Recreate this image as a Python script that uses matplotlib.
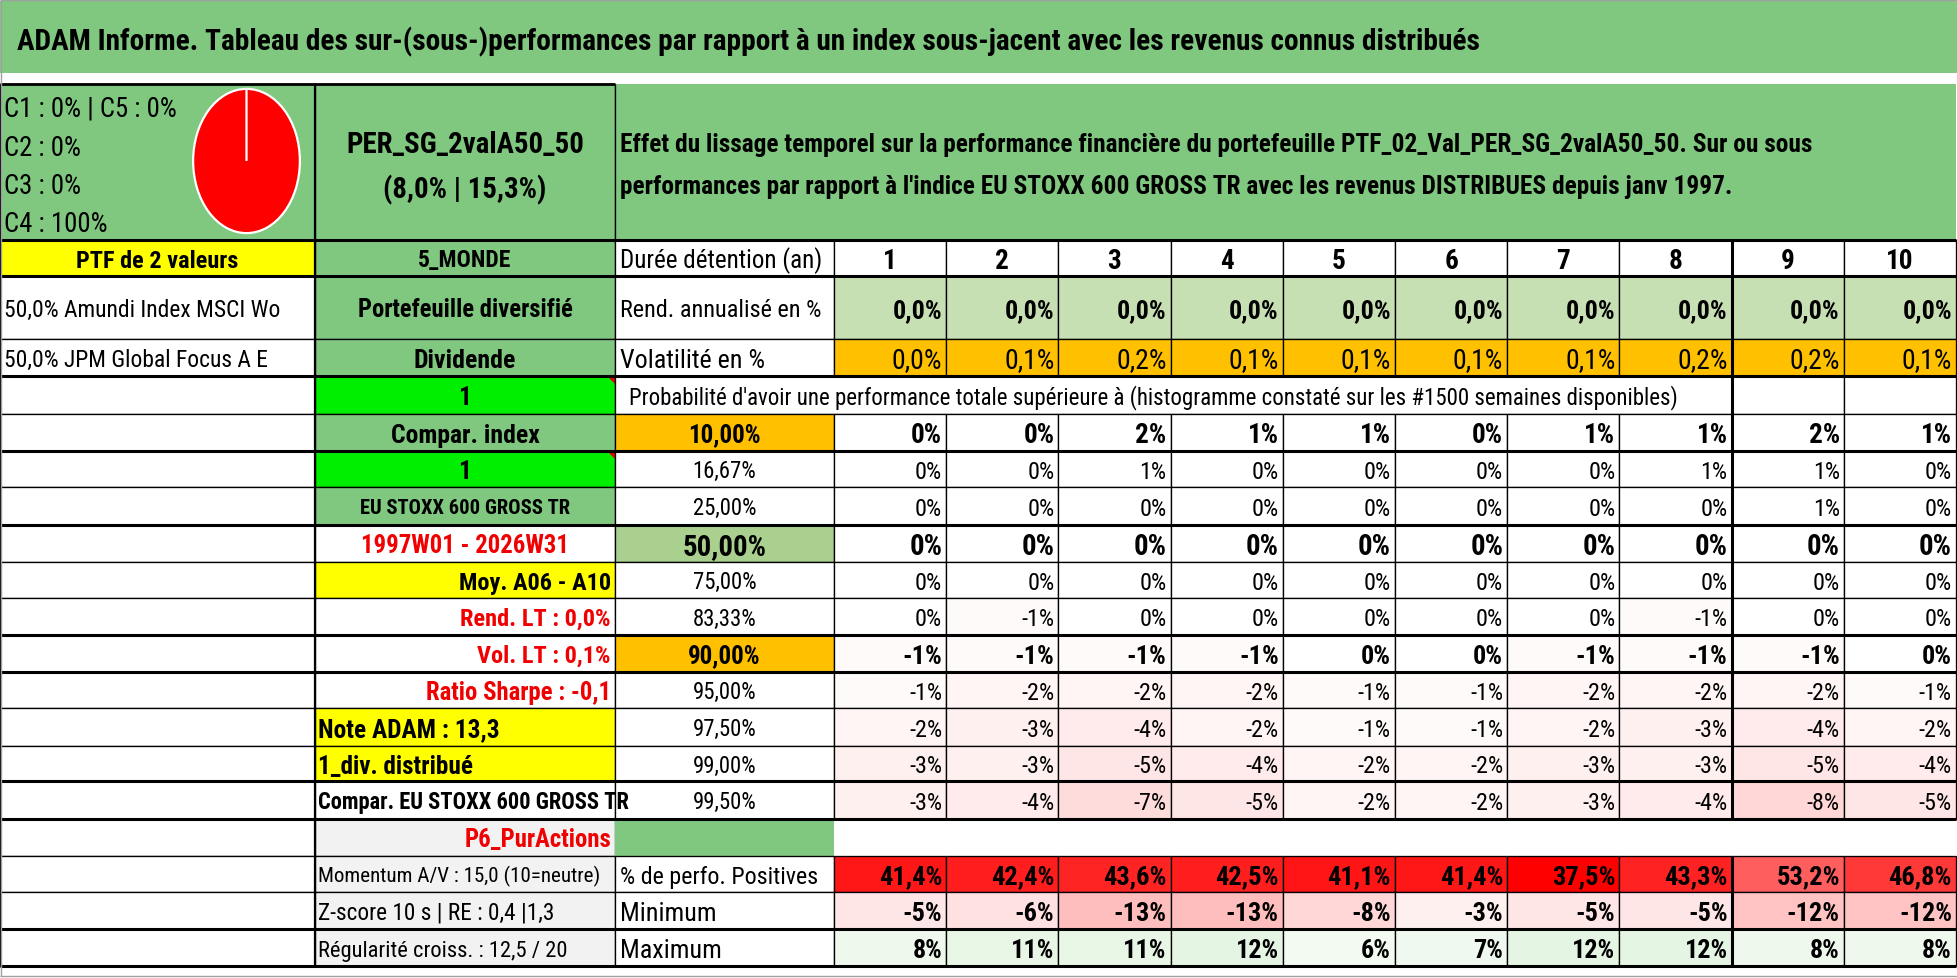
import matplotlib
matplotlib.use('Agg')
import matplotlib.pyplot as plt
from matplotlib.patches import Rectangle, Polygon
from matplotlib.colors import LinearSegmentedColormap, Normalize
from matplotlib.font_manager import FontProperties, fontManager

# values
pie_labels = ['C1', 'C2', 'C3', 'C4', 'C5']
pie_values = [0, 0, 0, 100, 0]

horizons = [1, 2, 3, 4, 5, 6, 7, 8, 9, 10]
rend_annualise = [0.0, 0.0, 0.0, 0.0, 0.0, 0.0, 0.0, 0.0, 0.0, 0.0]
volatilite = [0.0, 0.1, 0.2, 0.1, 0.1, 0.1, 0.1, 0.2, 0.2, 0.1]

quantiles = ['10,00%', '16,67%', '25,00%', '50,00%', '75,00%', '83,33%',
             '90,00%', '95,00%', '97,50%', '99,00%', '99,50%']
q10 = [0, 0, 2, 1, 1, 0, 1, 1, 2, 1]
q16 = [0, 0, 1, 0, 0, 0, 0, 1, 1, 0]
q25 = [0, 0, 0, 0, 0, 0, 0, 0, 1, 0]
q50 = [0, 0, 0, 0, 0, 0, 0, 0, 0, 0]
q75 = [0, 0, 0, 0, 0, 0, 0, 0, 0, 0]
q83 = [0, -1, 0, 0, 0, 0, 0, -1, 0, 0]
q90 = [-1, -1, -1, -1, 0, 0, -1, -1, -1, 0]
q95 = [-1, -2, -2, -2, -1, -1, -2, -2, -2, -1]
q975 = [-2, -3, -4, -2, -1, -1, -2, -3, -4, -2]
q99 = [-3, -3, -5, -4, -2, -2, -3, -3, -5, -4]
q995 = [-3, -4, -7, -5, -2, -2, -3, -4, -8, -5]
quantile_rows = [q10, q16, q25, q50, q75, q83, q90, q95, q975, q99, q995]

perf_positives = [41.4, 42.4, 43.6, 42.5, 41.1, 41.4, 37.5, 43.3, 53.2, 46.8]
minimum = [-5, -6, -13, -13, -8, -3, -5, -5, -12, -12]
maximum = [8, 11, 11, 12, 6, 7, 12, 12, 8, 8]

title = ("ADAM Informe. Tableau des sur-(sous-)performances par rapport à un index "
         "sous-jacent avec les revenus connus distribués")
effet_1 = ("Effet du lissage temporel sur la performance financière du portefeuille "
           "PTF_02_Val_PER_SG_2valA50_50. Sur ou sous")
effet_2 = ("performances par rapport à l'indice EU STOXX 600 GROSS TR avec les revenus "
           "DISTRIBUES depuis janv 1997.")
proba = ("Probabilité d'avoir une performance totale supérieure à (histogramme constaté "
         "sur les #1500 semaines disponibles)")

# sheet layout, in pixels
W, H = 1958, 979
XA, XB, XC, XN = 0, 315, 615, 834
CW = 112.2
ROW_Y = [241, 277, 340, 377, 415, 452, 488, 526, 563, 599, 636, 673, 709,
         747, 782, 820, 857, 893, 930, 967]

GREEN = '#80C880'
LIME = '#00EE00'
YELLOW = '#FFFF00'
ORANGE = '#FFC000'
PALE = '#C6E0B4'
MID = '#A9D08E'
GREY = '#F2F2F2'
RED = '#F00000'

installed = {f.name for f in fontManager.ttflist}
FONT = next((f for f in ['Liberation Sans Narrow', 'Roboto Condensed',
                         'DejaVu Sans Condensed', 'Roboto', 'Liberation Sans']
             if f in installed), 'DejaVu Sans')

fig = plt.figure(figsize=(W / 100, H / 100), dpi=100)
ax = fig.add_axes([0, 0, 1, 1])
ax.set_xlim(0, W)
ax.set_ylim(H, 0)
ax.axis('off')
rend = fig.canvas.get_renderer()

LW = 0.95
G = 1.12    # the sheet text is taller than it is wide, let short strings grow a bit
GN = 1.2    # numbers sit in wide cells, they can grow more


def box(x0, x1, y0, y1, fc='white', ec='black', lw=LW):
    ax.add_patch(Rectangle((x0, y0), x1 - x0, y1 - y0, facecolor=fc,
                           edgecolor=ec, linewidth=lw))


def fit(s, width, weight='normal', grow=1.0):
    fp = FontProperties(family=FONT, weight=weight, size=100)
    w = rend.get_text_width_height_descent(s, fp, ismath=False)[0]
    return 100 * width / w * grow


def put(x, y, s, size, ha='left', weight='normal', color='black'):
    return ax.text(x, y + 0.497 * size, s, fontsize=size, ha=ha, va='baseline',
                   fontweight=weight, color=color, family=FONT)


def mid(i):
    return (ROW_Y[i] + ROW_Y[i + 1]) / 2


def col(j):
    return XN + j * CW, XN + (j + 1) * CW


def p1(v):
    return f'{v:.1f}%'.replace('.', ',')


def p0(v):
    return f'{v:d}%'


# title band and header block
ax.add_patch(Rectangle((0, 2), W, 72, facecolor=GREEN, edgecolor='none'))
put(17, 40, title, fit(title, 1467, 'bold'), weight='bold')

box(XA, XB, 85, 241, GREEN)
box(XB, XC, 85, 241, GREEN)
ax.add_patch(Rectangle((XC, 85), 1956 - XC, 156, facecolor=GREEN, edgecolor='none'))
ax.vlines(XC, 85, 241, color='black', lw=LW)
ax.hlines(85, 0, XC, color='black', lw=2)

s = fit('C1 : 0% | C5 : 0%', 154, grow=G)
for y, t in zip([107, 146, 184, 222], ['C1 : 0% | C5 : 0%', 'C2 : 0%', 'C3 : 0%', 'C4 : 100%']):
    put(4, y, t, s)

s = fit('PER_SG_2valA50_50', 212, 'bold', G)
put((XB + XC) / 2, 143, 'PER_SG_2valA50_50', s, 'center', 'bold')
put((XB + XC) / 2, 188, '(8,0% | 15,3%)', s, 'center', 'bold')

s = fit(effet_1, 1195, 'bold')
put(620, 143, effet_1, s, weight='bold')
put(620, 185, effet_2, s, weight='bold')

pax = fig.add_axes([191 / W, 1 - 237 / H, 111 / W, 150 / H])
pax.pie(pie_values, colors=['#FF0000'] * len(pie_values), startangle=90,
        counterclock=False, wedgeprops=dict(edgecolor='white', linewidth=1.6))
pax.set_aspect('auto')
pax.set_xlim(-1.04, 1.04)
pax.set_ylim(-1.04, 1.04)

# column A
box(XA, XB, ROW_Y[0], ROW_Y[1], YELLOW)
put((XA + XB) / 2, mid(0), 'PTF de 2 valeurs', fit('PTF de 2 valeurs', 145, 'bold', G),
    'center', 'bold')
s = fit('50,0% Amundi Index MSCI Wo', 246, grow=G)
for i, t in [(1, '50,0% Amundi Index MSCI Wo'), (2, '50,0% JPM Global Focus A E')]:
    box(XA, XB, ROW_Y[i], ROW_Y[i + 1])
    put(4, mid(i), t, s)
for i in range(3, 19):
    box(XA, XB, ROW_Y[i], ROW_Y[i + 1])

# column B
s_ci = fit('Compar. index', 133, 'bold', G)
col_b = [
    (GREEN, '5_MONDE', 'center', 'bold', 'black', fit('5_MONDE', 83, 'bold', G)),
    (GREEN, 'Portefeuille diversifié', 'center', 'bold', 'black',
     fit('Portefeuille diversifié', 192, 'bold', G)),
    (GREEN, 'Dividende', 'center', 'bold', 'black', fit('Dividende', 91, 'bold', G)),
    (LIME, '1', 'center', 'bold', 'black', s_ci),
    (GREEN, 'Compar. index', 'center', 'bold', 'black', s_ci),
    (LIME, '1', 'center', 'bold', 'black', s_ci),
    (GREEN, 'EU STOXX 600 GROSS TR', 'center', 'bold', 'black',
     fit('EU STOXX 600 GROSS TR', 187, 'bold', G)),
    ('white', '1997W01 - 2026W31', 'center', 'bold', RED,
     fit('1997W01 - 2026W31', 186, 'bold', G)),
    (YELLOW, 'Moy. A06 - A10', 'right', 'bold', 'black', fit('Moy. A06 - A10', 136, 'bold', G)),
    ('white', 'Rend. LT : 0,0%', 'right', 'bold', RED, fit('Rend. LT : 0,0%', 135, 'bold', G)),
    ('white', 'Vol. LT : 0,1%', 'right', 'bold', RED, fit('Vol. LT : 0,1%', 119, 'bold', G)),
    ('white', 'Ratio Sharpe : -0,1', 'right', 'bold', RED,
     fit('Ratio Sharpe : -0,1', 165, 'bold', G)),
    (YELLOW, 'Note ADAM : 13,3', 'left', 'bold', 'black', fit('Note ADAM : 13,3', 162, 'bold', G)),
    (YELLOW, '1_div. distribué', 'left', 'bold', 'black',
     fit('1_div. distribué', 139, 'bold', G)),
    ('white', 'Compar. EU STOXX 600 GROSS TR', 'left', 'bold', 'black',
     fit('Compar. EU STOXX 600 GROSS TR', 312, 'bold')),
    (GREY, 'P6_PurActions', 'right', 'bold', RED, fit('P6_PurActions', 131, 'bold', G)),
    (GREY, 'Momentum A/V : 15,0 (10=neutre)', 'left', 'normal', 'black',
     fit('Momentum A/V : 15,0 (10=neutre)', 282)),
    (GREY, 'Z-score 10 s | RE : 0,4 |1,3', 'left', 'normal', 'black',
     fit('Z-score 10 s | RE : 0,4 |1,3', 211, grow=G)),
    (GREY, 'Régularité croiss. : 12,5 / 20', 'left', 'normal', 'black',
     fit('Régularité croiss. : 12,5 / 20', 222, grow=G)),
]
for i, (fc, t, ha, wt, c, sz) in enumerate(col_b):
    box(XB, XC, ROW_Y[i], ROW_Y[i + 1], fc)
    x = {'center': (XB + XC) / 2, 'right': XC - 4, 'left': XB + 3}[ha]
    txt = put(x, mid(i), t, sz, ha, wt, c)
    if i == 14:
        txt.set_clip_path(Rectangle((XB, ROW_Y[i]), XC - XB, ROW_Y[i + 1] - ROW_Y[i],
                                    transform=ax.transData))
    if fc == LIME:
        y0 = ROW_Y[i]
        ax.add_patch(Polygon([(XC - 8, y0), (XC, y0), (XC, y0 + 8)], closed=True,
                             facecolor='#E00000', edgecolor='none'))

# column C labels
for i, t, w, g in [(0, 'Durée détention (an)', 193, 1.05), (1, 'Rend. annualisé en %', 192, 1.05),
                   (2, 'Volatilité en %', 130, G)]:
    box(XC, XN, ROW_Y[i], ROW_Y[i + 1])
    put(620, mid(i), t, fit(t, w, grow=g))

box(XC, XN + 8 * CW, ROW_Y[3], ROW_Y[4])
put(629, mid(3), proba, fit(proba, 1048))
for j in (8, 9):
    box(*col(j), ROW_Y[3], ROW_Y[4])

q_bold = {'10,00%': fit('10,00%', 65, 'bold', G), '50,00%': fit('50,00%', 75, 'bold', G),
          '90,00%': fit('10,00%', 65, 'bold', G)}
q_fill = {'10,00%': ORANGE, '50,00%': MID, '90,00%': ORANGE}
s_q = fit('16,67%', 57, grow=G)
for k, lab in enumerate(quantiles):
    i = 4 + k
    box(XC, XN, ROW_Y[i], ROW_Y[i + 1], q_fill.get(lab, 'white'))
    if lab in q_bold:
        put((XC + XN) / 2, mid(i), lab, q_bold[lab], 'center', 'bold')
    else:
        put((XC + XN) / 2, mid(i), lab, s_q, 'center')

box(XC, XN, ROW_Y[15], ROW_Y[16], GREEN, ec='none')
ax.add_patch(Rectangle((XN, ROW_Y[15]), 1956 - XN, ROW_Y[16] - ROW_Y[15],
                       facecolor='white', edgecolor='none'))
for i, t, w, g in [(16, '% de perfo. Positives', 189, 1.05), (17, 'Minimum', 86, G),
                   (18, 'Maximum', 91, G)]:
    box(XC, XN, ROW_Y[i], ROW_Y[i + 1])
    put(620, mid(i), t, fit(t, w, grow=g))

# value grid
neg_cmap = LinearSegmentedColormap.from_list('neg', ['#FFFFFF', '#FF0000'])
neg_norm = Normalize(0, 51)
pos_cmap = LinearSegmentedColormap.from_list('pos', ['#FF0000', '#FFFFFF'])
pos_norm = Normalize(min(perf_positives), 80)
max_cmap = LinearSegmentedColormap.from_list('mx', ['#FFFFFF', '#DDF2DA'])
max_norm = Normalize(0, 16)

s_h = fit('10', 23, 'bold', GN)
s_r = fit('0,0%', 41.5, 'bold', GN)
s_v = fit('0,1%', 42, grow=GN)
q_sizes = {0: (fit('0%', 26, 'bold', GN), 'bold'), 3: (fit('0%', 27.5, 'bold', GN), 'bold'),
           6: (fit('-1%', 33, 'bold', GN), 'bold')}
s_qv = fit('0%', 22.6, grow=GN)
s_p = fit('41,4%', 53, 'bold', GN)
s_mn = fit('-13%', 44, 'bold', GN)
s_mx = fit('11%', 36, 'bold', GN)

for j in range(10):
    x0, x1 = col(j)
    xr = x1 - 4
    box(x0, x1, ROW_Y[0], ROW_Y[1])
    put((x0 + x1) / 2, mid(0), str(horizons[j]), s_h, 'center', 'bold')
    box(x0, x1, ROW_Y[1], ROW_Y[2], PALE)
    put(xr, mid(1), p1(rend_annualise[j]), s_r, 'right', 'bold')
    box(x0, x1, ROW_Y[2], ROW_Y[3], ORANGE)
    put(xr, mid(2), p1(volatilite[j]), s_v, 'right')
    for k, row in enumerate(quantile_rows):
        i = 4 + k
        v = row[j]
        fc = neg_cmap(neg_norm(-v)) if v < 0 else 'white'
        box(x0, x1, ROW_Y[i], ROW_Y[i + 1], fc)
        sz, wt = q_sizes.get(k, (s_qv, 'normal'))
        put(xr, mid(i), p0(v), sz, 'right', wt)
    box(x0, x1, ROW_Y[16], ROW_Y[17], pos_cmap(pos_norm(perf_positives[j])))
    put(xr, mid(16), p1(perf_positives[j]), s_p, 'right', 'bold')
    box(x0, x1, ROW_Y[17], ROW_Y[18], neg_cmap(neg_norm(-minimum[j])))
    put(xr, mid(17), p0(minimum[j]), s_mn, 'right', 'bold')
    box(x0, x1, ROW_Y[18], ROW_Y[19], max_cmap(max_norm(maximum[j])))
    put(xr, mid(18), p0(maximum[j]), s_mx, 'right', 'bold')

# heavier rules
ax.hlines([241, 277, 377, 452, 526, 636, 673, 782, 820, 930, 967], 0, 1956,
          color='black', lw=2.2)
ax.vlines(XN + 8 * CW, ROW_Y[0], ROW_Y[15], color='black', lw=2.2)
ax.vlines(XN + 8 * CW, ROW_Y[16], ROW_Y[19], color='black', lw=2.2)
ax.vlines(XB, 85, 967, color='black', lw=1.6)

# sheet frame
ax.hlines([0.6, 977], 0, W, color='#A0A0A0', lw=1)
ax.vlines(0.6, 0, 977, color='#A0A0A0', lw=1)

fig.savefig('out.png', dpi=100)
